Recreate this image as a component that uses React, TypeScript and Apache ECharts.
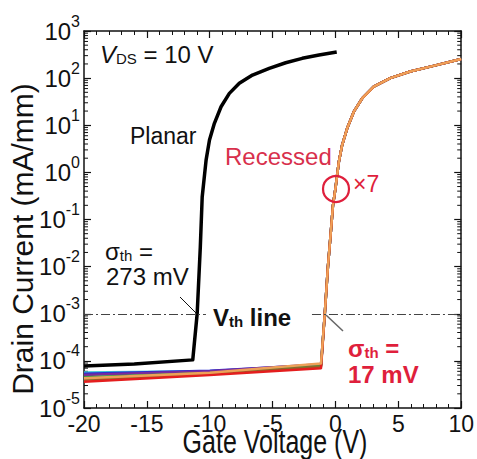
import React, { useEffect, useRef } from "react";
import * as echarts from "echarts";

// ---- data ----
const xTicksMin = -20;
const xTicksMax = 10;
const yMin = 1e-5;
const yMax = 1e3;

// Planar device: [gate voltage (V), drain current (mA/mm)]
const planarV = [-20, -16, -11.35, -11.0, -10.75, -10.6, -10.29, -10.02, -9.63, -9.1, -8.44, -7.65, -6.6, -5.27, -3.96, -2.64, -1.31, 0.1];
const planarI = [7.8e-5, 8.6e-5, 1.05e-4, 1e-3, 2.6e-2, 0.3, 1.82, 4.85, 11, 24.7, 47.5, 77.6, 116, 161, 212, 263, 309, 360];

// Recessed devices (x7): off-state points differ, on-state points overlap
const recessedOffV = [-20, -10, -1.15];
const recessedOnV = [-0.85, -0.6, -0.38, -0.2, 0, 0.27, 0.53, 0.93, 1.46, 2.12, 3.04, 4.36, 5.94, 7.79, 10];
const recessedOnI = [1e-3, 1e-2, 5e-2, 0.2, 0.46, 1.68, 3.8, 8.6, 19.4, 37, 66, 100, 138, 182, 255];

const devCyan = [5.7e-5, 6.0e-5, 8.0e-5];
const devBlue = [5.3e-5, 6.2e-5, 8.3e-5];
const devPurple = [5.0e-5, 6.0e-5, 8.5e-5];
const devGreen = [4.5e-5, 5.5e-5, 7.8e-5];
const devBrown = [4.0e-5, 5.2e-5, 7.6e-5];
const devRed = [3.6e-5, 5.0e-5, 7.0e-5];
const devOrange = [4.3e-5, 5.6e-5, 8.8e-5];

const recessedDevices = [
  { name: "Recessed 1", off: devCyan, color: "#3cc6d6" },
  { name: "Recessed 2", off: devBlue, color: "#2b2fd0" },
  { name: "Recessed 3", off: devPurple, color: "#7a2a9c" },
  { name: "Recessed 4", off: devGreen, color: "#3a9a40" },
  { name: "Recessed 5", off: devBrown, color: "#8a6a2a" },
  { name: "Recessed 6", off: devRed, color: "#e41e1e" },
  { name: "Recessed 7", off: devOrange, color: "#eea058" },
];

const vthLevel = 1e-3;
const vthLeftSegment = [-20, -10.3];
const vthRightSegment = [-1.87, 10];

const minorMultipliers = [2, 3, 4, 5, 6, 7, 8, 9];
const decadeExponents = [-5, -4, -3, -2, -1, 0, 1, 2];

const FONT = "'Liberation Sans', Arial, Helvetica, sans-serif";
const RED = "#df1f3c";

export default function App() {
  const ref = useRef<HTMLDivElement>(null);

  useEffect(() => {
    if (!ref.current) return;
    const chart = echarts.init(ref.current, undefined, { renderer: "svg" });

    const minorY: number[][] = [];
    decadeExponents.forEach((e) => {
      minorMultipliers.forEach((m) => {
        minorY.push([xTicksMin, Number((m * Math.pow(10, e)).toPrecision(3))]);
      });
    });

    const recessedSeries = recessedDevices.map((d) => ({
      type: "line",
      name: d.name,
      showSymbol: false,
      symbol: "none",
      lineStyle: { color: d.color, width: 2.5, join: "round" },
      data: [
        ...recessedOffV.map((v, i) => [v, d.off[i]]),
        ...recessedOnV.map((v, i) => [v, recessedOnI[i]]),
      ],
      z: 3,
    }));

    const superscriptLabel = (val: number) => {
      const n = Math.round(Math.log10(val));
      return `{b|10}{s|${n}}`;
    };

    const axisLineStyle = { show: true, onZero: false, lineStyle: { color: "#111", width: 1.5 } };

    const subRich = (fill: string, weight: string, pad: number) => ({
      g: { fontSize: 24, fontWeight: weight, fill, fontFamily: FONT, verticalAlign: "top", lineHeight: 24 },
      sub: { fontSize: 15, fontWeight: weight, fill, fontFamily: FONT, verticalAlign: "bottom", lineHeight: 15, padding: [pad, 0, 0, 0] },
      n: { fontSize: 24, fontWeight: weight, fill, fontFamily: FONT, verticalAlign: "top", lineHeight: 24 },
    });

    const option: any = {
      animation: false,
      backgroundColor: "#ffffff",
      textStyle: { fontFamily: FONT },
      grid: { left: 84, right: 14, top: 31, bottom: 51, containLabel: false },
      xAxis: [
        {
          type: "value",
          min: xTicksMin,
          max: xTicksMax,
          interval: 5,
          axisLine: axisLineStyle,
          axisTick: { show: true, inside: true, length: 7, lineStyle: { color: "#111", width: 1.2 } },
          minorTick: { show: true, splitNumber: 5, length: 4, lineStyle: { color: "#111", width: 1 } },
          axisLabel: { fontSize: 23, color: "#111", margin: 4, fontFamily: FONT },
          splitLine: { show: false },
        },
        {
          type: "value",
          position: "top",
          min: xTicksMin,
          max: xTicksMax,
          interval: 5,
          axisLine: axisLineStyle,
          axisTick: { show: true, inside: true, length: 7, lineStyle: { color: "#111", width: 1.2 } },
          minorTick: { show: true, splitNumber: 5, length: 4, lineStyle: { color: "#111", width: 1 } },
          axisLabel: { show: false },
          splitLine: { show: false },
        },
      ],
      yAxis: [
        {
          type: "log",
          logBase: 10,
          min: yMin,
          max: yMax,
          splitNumber: 8,
          axisLine: axisLineStyle,
          axisTick: { show: true, inside: true, length: 7, lineStyle: { color: "#111", width: 1.2 } },
          axisLabel: {
            margin: 4,
            formatter: superscriptLabel,
            rich: {
              b: { fontSize: 24, color: "#111", fontFamily: FONT, lineHeight: 36, verticalAlign: "middle" },
              s: { fontSize: 16, color: "#111", fontFamily: FONT, verticalAlign: "top", lineHeight: 16 },
            },
          },
          splitLine: { show: false },
        },
        {
          type: "log",
          logBase: 10,
          position: "right",
          min: yMin,
          max: yMax,
          splitNumber: 8,
          axisLine: axisLineStyle,
          axisTick: { show: true, inside: true, length: 7, lineStyle: { color: "#111", width: 1.2 } },
          axisLabel: { show: false },
          splitLine: { show: false },
        },
      ],
      series: [
        {
          type: "custom",
          name: "minor ticks",
          silent: true,
          data: minorY,
          renderItem: (params: any, api: any) => {
            const yv = api.value(1);
            const pl = api.coord([xTicksMin, yv]);
            const pr = api.coord([xTicksMax, yv]);
            return {
              type: "group",
              children: [
                { type: "line", shape: { x1: pl[0], y1: pl[1], x2: pl[0] + 4, y2: pl[1] }, style: { stroke: "#111", lineWidth: 1 } },
                { type: "line", shape: { x1: pr[0] - 4, y1: pr[1], x2: pr[0], y2: pr[1] }, style: { stroke: "#111", lineWidth: 1 } },
              ],
            };
          },
          z: 1,
        },
        ...recessedSeries,
        {
          type: "line",
          name: "Planar",
          showSymbol: false,
          symbol: "none",
          lineStyle: { color: "#000", width: 3.5, join: "round" },
          data: planarV.map((v, i) => [v, planarI[i]]),
          z: 4,
          markLine: {
            silent: true,
            symbol: "none",
            label: { show: false },
            lineStyle: { color: "#444", width: 1, type: [9, 3, 2, 3] },
            data: [
              [{ coord: [vthLeftSegment[0], vthLevel] }, { coord: [vthLeftSegment[1], vthLevel] }],
              [{ coord: [vthRightSegment[0], vthLevel] }, { coord: [vthRightSegment[1], vthLevel] }],
            ],
          },
        },
      ],
      graphic: [
        {
          type: "text",
          x: 22,
          y: 239,
          rotation: Math.PI / 2,
          style: {
            text: "Drain Current (mA/mm)",
            fontSize: 30,
            fontFamily: FONT,
            fill: "#111",
            textAlign: "center",
            textVerticalAlign: "middle",
          },
          z: 10,
        },
        {
          type: "text",
          x: 275,
          y: 442,
          scaleY: 1.3,
          style: {
            text: "Gate Voltage (V)",
            fontSize: 25,
            fontFamily: FONT,
            fill: "#111",
            textAlign: "center",
            textVerticalAlign: "middle",
          },
          z: 10,
        },
        {
          type: "text",
          left: 100,
          top: 41,
          style: {
            text: "{i|V}{sub|DS}{n| = 10 V}",
            rich: {
              i: { fontSize: 24, fontStyle: "italic", fill: "#111", fontFamily: FONT, verticalAlign: "top", lineHeight: 24 },
              sub: { fontSize: 15, fill: "#111", fontFamily: FONT, verticalAlign: "bottom", lineHeight: 15, padding: [10, 0, 0, 0] },
              n: { fontSize: 24, fill: "#111", fontFamily: FONT, verticalAlign: "top", lineHeight: 24 },
            },
          },
          z: 10,
        },
        {
          type: "text",
          style: { text: "Planar", x: 130, y: 136, fontSize: 23, fontFamily: FONT, fill: "#111", textVerticalAlign: "middle" },
          z: 10,
        },
        {
          type: "text",
          style: { text: "Recessed", x: 225, y: 156.5, fontSize: 24, fontFamily: FONT, fill: "#d8304c", textVerticalAlign: "middle" },
          z: 10,
        },
        {
          type: "circle",
          shape: { cx: 336, cy: 189, r: 13 },
          style: { fill: "none", stroke: RED, lineWidth: 2.2 },
          z: 10,
        },
        {
          type: "text",
          style: { text: "×7", x: 353, y: 183.5, fontSize: 23, fontFamily: FONT, fill: RED, textVerticalAlign: "middle" },
          z: 10,
        },
        {
          type: "text",
          left: 105,
          top: 234,
          style: { text: "{g|σ}{sub|th}{n| =}", rich: subRich("#111", "normal", 14) },
          z: 10,
        },
        {
          type: "text",
          style: { text: "273 mV", x: 106, y: 276, fontSize: 24, fontFamily: FONT, fill: "#111", textVerticalAlign: "middle" },
          z: 10,
        },
        {
          type: "line",
          shape: { x1: 180, y1: 297, x2: 197, y2: 314 },
          style: { stroke: "#111", lineWidth: 1 },
          z: 10,
        },
        {
          type: "text",
          left: 213,
          top: 302,
          style: { text: "{g|V}{sub|th}{n| line}", rich: subRich("#111", "bold", 12) },
          z: 10,
        },
        {
          type: "line",
          shape: { x1: 326, y1: 315, x2: 343, y2: 331 },
          style: { stroke: "#666", lineWidth: 1.5 },
          z: 10,
        },
        {
          type: "text",
          left: 348,
          top: 331,
          style: { text: "{g|σ}{sub|th}{n| =}", rich: subRich(RED, "bold", 14) },
          z: 10,
        },
        {
          type: "text",
          style: { text: "17 mV", x: 348, y: 374, fontSize: 24, fontWeight: "bold", fontFamily: FONT, fill: RED, textVerticalAlign: "middle" },
          z: 10,
        },
      ],
    };

    chart.setOption(option);
    return () => chart.dispose();
  }, []);

  return <div ref={ref} style={{ width: 477, height: 459, position: "absolute", left: 0, top: 0 }} />;
}
